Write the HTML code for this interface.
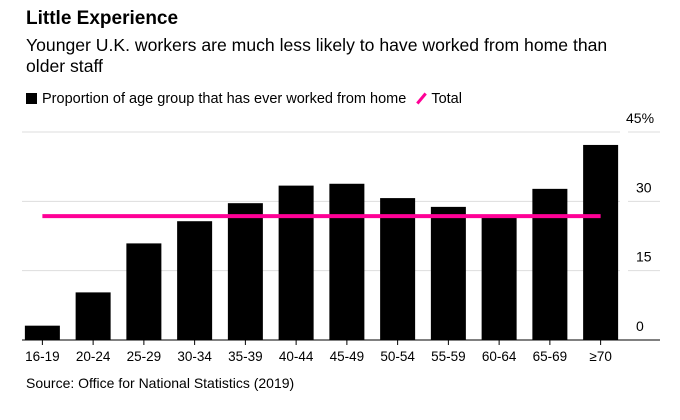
<!DOCTYPE html>
<html><head><meta charset="utf-8"><style>
body{margin:0;background:#fff;font-family:"Liberation Sans",Arial,sans-serif;}
#wrap{position:relative;width:680px;height:420px;overflow:hidden;}
.t{position:absolute;left:26px;white-space:nowrap;color:#000;}
</style></head><body>
<div id="wrap">
<div class="t" style="top:8px;font-size:19px;font-weight:bold;">Little Experience</div>
<div class="t" style="top:35px;font-size:17.6px;line-height:21px;">Younger U.K. workers are much less likely to have worked from home than<br>older staff</div>
<div class="t" style="top:91px;font-size:14.5px;">
<span><span style="display:inline-block;width:11px;height:11px;background:#000;vertical-align:-1px;margin-right:5px"></span>Proportion of age group that has ever worked from home</span>
<span style="margin-left:10px"><span style="display:inline-block;width:3px;height:13px;background:#ff0096;transform:rotate(40deg);vertical-align:-2px;margin-right:8px"></span>Total</span>
</div>
<svg id="chart" width="680" height="420" style="position:absolute;left:0;top:0"></svg>
<div class="t" style="top:375px;font-size:14px;">Source: Office for National Statistics (2019)</div>
</div>
<script>
const categories=["16-19","20-24","25-29","30-34","35-39","40-44","45-49","50-54","55-59","60-64","65-69","≥70"];
const values=[3.1,10.3,20.9,25.7,29.6,33.4,33.8,30.7,28.8,26.5,32.7,42.2];
const totalValue=[26.8];
const yTicks=[0,15,30,45];
const yTickLabels=["0","15","30","45%"];
const svg=document.getElementById('chart');
const NS='http://www.w3.org/2000/svg';
const x0=17,x1=626,yBase=340,yTop=132,yMax=45;
const band=(x1-x0)/categories.length,bw=35;
const y=v=>yBase-(v/yMax)*(yBase-yTop);
const xc=i=>x0+band*(i+0.5);
function mk(tag,at){const e=document.createElementNS(NS,tag);for(const k in at)e.setAttribute(k,at[k]);svg.appendChild(e);return e;}
yTicks.forEach((t,i)=>{
 if(t>0){const g=mk('line',{x1:22,x2:620,y1:y(t),y2:y(t),stroke:'#ddd','stroke-width':1});
 
 }
 const g2=mk('line',{x1:628,x2:660,y1:y(t),y2:y(t),stroke:'#ddd','stroke-width':1});
 
 
 const tx=mk('text',{x:i==3?626:636,y:y(t)-9,'font-size':14,fill:'#000','font-family':'Liberation Sans, sans-serif'});
 tx.textContent=yTickLabels[i];
 
 
});
values.forEach((v,i)=>{
 const r=mk('rect',{x:xc(i)-bw/2,y:y(v),width:bw,height:yBase-y(v),fill:'#000'});
 
 
 const tk=mk('line',{x1:xc(i),x2:xc(i),y1:yBase,y2:yBase+5,stroke:'#000'});
 
 
 const tx=mk('text',{x:xc(i),y:yBase+21,'font-size':13.5,'text-anchor':'middle',fill:'#000','font-family':'Liberation Sans, sans-serif'});
 tx.textContent=categories[i];
 
 
});
const base=mk('line',{x1:22,x2:660,y1:yBase,y2:yBase,stroke:'#000','stroke-width':1});


const tl=mk('line',{x1:xc(0),x2:xc(categories.length-1),y1:y(totalValue[0]),y2:y(totalValue[0]),stroke:'#ff0096','stroke-width':4});


</script>
</body></html>
